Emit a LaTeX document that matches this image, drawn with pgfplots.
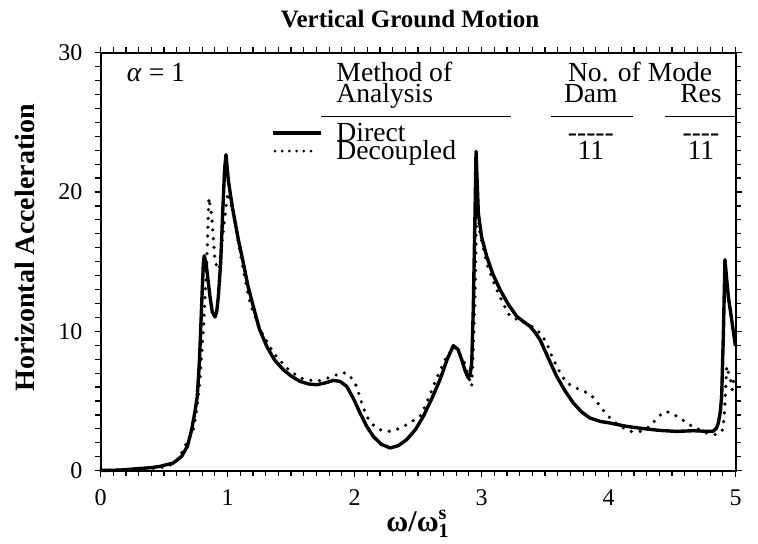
\documentclass[border=0pt]{standalone}
\usepackage{fontspec}
\setmainfont{Liberation Serif}
\usepackage{pgfplots}
\usepackage{pgfplotstable}
\pgfplotsset{compat=1.18}
\newcommand{\kf}{\fontsize{13.8}{16}\selectfont}

% Horizontal acceleration response, direct solution
\pgfplotstableread{
x y
0.000 0.02
0.150 0.04
0.258 0.12
0.400 0.22
0.468 0.31
0.573 0.55
0.639 1.03
0.684 1.75
0.718 2.94
0.745 4.30
0.762 5.33
0.778 7.73
0.789 10.12
0.799 12.50
0.810 14.90
0.817 15.43
0.831 14.90
0.862 12.50
0.880 11.40
0.902 11.03
0.915 11.40
0.928 12.51
0.946 14.91
0.962 18.50
0.977 21.60
0.988 22.68
1.006 20.89
1.025 19.69
1.046 18.52
1.085 16.60
1.124 14.93
1.160 13.30
1.203 11.79
1.250 10.20
1.309 8.92
1.370 7.95
1.439 7.25
1.500 6.80
1.571 6.41
1.640 6.22
1.702 6.17
1.770 6.30
1.833 6.48
1.886 6.41
1.939 6.05
1.990 5.20
2.043 4.16
2.095 3.20
2.148 2.46
2.210 1.90
2.280 1.63
2.345 1.80
2.411 2.23
2.480 2.95
2.542 3.90
2.610 5.20
2.673 6.53
2.730 8.00
2.778 8.97
2.815 8.70
2.844 7.97
2.870 7.20
2.896 6.65
2.912 7.00
2.923 7.75
2.935 11.50
2.948 18.00
2.957 22.92
2.975 18.50
3.000 16.80
3.041 15.38
3.090 14.10
3.146 12.99
3.210 11.95
3.277 11.08
3.330 10.70
3.382 10.36
3.420 9.95
3.461 9.40
3.525 8.10
3.592 6.77
3.660 5.70
3.723 4.86
3.790 4.20
3.854 3.78
3.933 3.54
4.012 3.42
4.143 3.18
4.274 3.02
4.406 2.89
4.537 2.82
4.668 2.87
4.790 2.82
4.825 2.84
4.850 3.05
4.865 3.42
4.880 4.20
4.891 5.33
4.905 10.00
4.917 15.15
4.930 13.80
4.943 12.51
4.970 10.84
4.996 9.17
5.000 8.95
}\direct

% Same response from the decoupled model (11 modes each)
\pgfplotstableread{
x y
0.000 0.02
0.200 0.05
0.350 0.12
0.500 0.25
0.580 0.50
0.620 0.90
0.652 1.51
0.690 2.20
0.731 2.94
0.760 4.50
0.783 6.53
0.810 10.12
0.836 14.93
0.854 19.58
0.876 18.26
0.902 14.93
0.935 14.43
0.967 17.30
1.002 19.96
1.046 18.52
1.124 14.43
1.177 12.04
1.256 10.12
1.361 8.45
1.466 7.37
1.571 6.65
1.702 6.41
1.833 6.77
1.886 7.01
1.939 7.01
1.980 6.60
2.017 6.05
2.055 4.90
2.096 3.90
2.150 3.25
2.201 2.94
2.280 2.82
2.345 3.00
2.411 3.30
2.516 3.90
2.570 4.90
2.620 6.05
2.675 7.20
2.726 8.20
2.791 8.92
2.857 7.97
2.890 7.00
2.923 6.05
2.936 9.00
2.949 12.51
2.962 19.22
2.988 17.06
3.041 14.91
3.080 13.90
3.120 12.99
3.170 12.00
3.224 11.08
3.317 10.72
3.395 10.36
3.461 9.89
3.513 9.17
3.550 8.30
3.592 7.49
3.630 6.85
3.671 6.30
3.720 6.05
3.776 5.81
3.854 5.50
3.900 5.05
3.933 4.62
3.970 4.20
4.012 3.78
4.060 3.40
4.116 3.07
4.180 2.82
4.248 2.82
4.313 3.11
4.353 3.47
4.400 3.95
4.453 4.26
4.510 4.05
4.563 3.78
4.620 3.40
4.668 3.14
4.730 2.90
4.786 2.66
4.852 2.58
4.899 2.94
4.910 3.80
4.917 4.86
4.931 7.49
4.945 7.00
4.960 6.60
4.975 5.80
4.988 6.60
5.000 6.30
}\decoupled

\begin{document}
\begin{tikzpicture}
\useasboundingbox (-50.25pt,-36.5pt) rectangle (328.75pt,235.35pt);
\begin{axis}[
  scale only axis,
  width=317.5pt, height=209pt,
  xmin=0, xmax=5, ymin=0, ymax=30,
  xtick={0,1,2,3,4,5}, ytick={0,10,20,30},
  minor x tick num=9, minor y tick num=9,
  tick align=outside,
  major tick length=3pt, minor tick length=2.6pt,
  axis line style={line width=1pt},
  every tick/.style={black, line width=0.6pt},
  tick label style={font=\fontsize{12}{14}\selectfont},
  xticklabel style={yshift=-3pt},
  yticklabel style={xshift=-2.5pt},
  /pgf/number format/assume math mode=true,
  clip=false,
]
\addplot[black, line width=1.7pt, line join=round] table {\direct};
\addplot[black, line width=1.8pt, line cap=round, dash pattern=on 0pt off 4.4pt] table {\decoupled};

% title and axis labels
\node[anchor=base, font=\bfseries\fontsize{12.5}{15}\selectfont] at (axis cs:2.437,31.8) {Vertical Ground Motion};
\node[rotate=90, anchor=base, font=\bfseries\fontsize{14}{16}\selectfont] at (axis cs:-0.516,16.0) {Horizontal Acceleration};
\node[anchor=base, font=\bfseries\fontsize{15}{17}\selectfont] at (axis cs:2.488,-4.38)
  {ω/ω\raisebox{-0.45ex}{\rlap{\fontsize{10}{11}\selectfont\bfseries 1}}\raisebox{0.9ex}{\fontsize{10}{11}\selectfont\bfseries s}};

% key table
\node[anchor=base, font=\kf] at (axis cs:0.437,27.93) {\textit{α} = 1};
\node[anchor=base west, font=\kf, inner sep=0pt] at (axis cs:1.855,27.93) {Method of};
\node[anchor=base west, font=\kf, inner sep=0pt] at (axis cs:1.855,26.42) {Analysis};
\node[anchor=base, font=\kf] at (axis cs:4.249,27.93) {No. of Mode};
\node[anchor=base, font=\kf] at (axis cs:3.861,26.42) {Dam};
\node[anchor=base, font=\kf] at (axis cs:4.728,26.42) {Res};
\draw[line width=0.8pt] (axis cs:1.74,25.41) -- (axis cs:3.23,25.41);
\draw[line width=0.8pt] (axis cs:3.547,25.41) -- (axis cs:4.193,25.41);
\draw[line width=0.8pt] (axis cs:4.441,25.41) -- (axis cs:5.0,25.41);
\draw[black, line width=1.6pt] (axis cs:1.358,24.24) -- (axis cs:1.739,24.24);
\draw[black, line width=1.5pt, line cap=round, dash pattern=on 0pt off 3.6pt] (axis cs:1.374,22.94) -- (axis cs:1.673,22.94);
\node[anchor=base west, font=\kf, inner sep=0pt] at (axis cs:1.855,23.63) {Direct};
\node[anchor=base west, font=\kf, inner sep=0pt] at (axis cs:1.855,22.33) {Decoupled};
\node[anchor=base, font=\kf] at (axis cs:3.861,23.63) {-{}-{}-{}-{}-};
\node[anchor=base, font=\kf] at (axis cs:4.728,23.63) {-{}-{}-{}-};
\node[anchor=base, font=\kf] at (axis cs:3.861,22.33) {11};
\node[anchor=base, font=\kf] at (axis cs:4.728,22.33) {11};
\end{axis}
\end{tikzpicture}
\end{document}
